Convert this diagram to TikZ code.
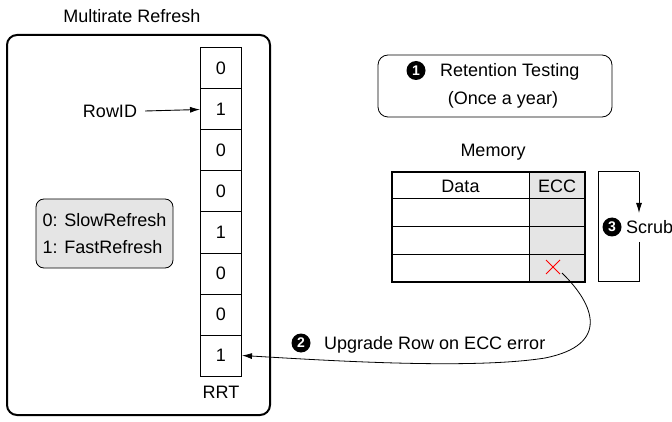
\documentclass[tikz,border=0pt]{standalone}
\usepackage{fontspec}
\setmainfont{Liberation Sans}
\usetikzlibrary{arrows.meta}
\begin{document}
\begin{tikzpicture}[x=1pt,y=-1pt,
  font=\fontsize{18}{21}\selectfont,
  cell/.style={draw, line width=1pt, minimum width=41pt, minimum height=41pt, inner sep=0pt},
  arr/.style={-{Latex[length=10pt,width=6pt]}, line width=0.9pt},
  lbl/.style={inner sep=0pt},
  cnum/.style={circle, fill=black, text=white, inner sep=0pt, minimum size=19pt,
               font=\fontsize{14}{14}\selectfont\bfseries},
  grayfill/.style={fill=black!10}
]
\useasboundingbox (0,0) rectangle (672,422);

% Multirate refresh block
\node[lbl] (title) at (132,16) {Multirate Refresh};
\draw[line width=2pt, rounded corners=10pt] (7,35) rectangle (270,415);

\foreach \v [count=\i from 0] in {0,1,0,0,1,0,0,1}
  \node[cell] (r\i) at (221,{68.5+41*\i}) {\v};
\node[lbl] (rrt) at (221,392) {RRT};

\node[lbl] (rowid) at (110,111) {RowID};
\draw[arr] (rowid.east) ++(8,0) -- (r1.west);

\node[draw, line width=0.8pt, rounded corners=8pt, grayfill, minimum width=137pt, minimum height=69pt,
      align=left, inner sep=0pt, font=\fontsize{18}{27}\selectfont] (legend) at (104.5,233.5)
  {0: SlowRefresh\\1: FastRefresh};

% Retention testing
\node[draw, line width=0.8pt, rounded corners=10pt, minimum width=234pt, minimum height=62pt] (ret) at (495,86) {};
\node[cnum] (c1) at (416,70.5) {1};
\node[lbl, anchor=base west] (rt1) at (440,77) {Retention Testing};
\node[lbl] (rt2) at (503,100) {(Once a year)};

% Memory
\node[lbl] (memlbl) at (493,152) {Memory};
\fill[black!10] (529,172) rectangle (585,282);
\draw[line width=1pt] (392,199) -- (585,199) (392,227) -- (585,227) (392,254) -- (585,254)
  (529,172) -- (529,282);
\draw[line width=2pt] (392,172) rectangle (585,282);
\node[lbl] (data) at (460.5,186) {Data};
\node[lbl] (ecc) at (557,186) {ECC};
\coordinate (err) at (553,267);
\draw[red, line width=0.9pt] (err) ++(-7,-7) -- ++(14,14) (err) ++(-7,7) -- ++(14,-14);

% Scrub
\draw[line width=1pt] (639,242) -- (639,281) -- (598,281) -- (598,172) -- (639,172);
\draw[arr] (639,172) -- (639,213);
\node[cnum] (c3) at (612,227) {3};
\node[lbl, anchor=base west] (scrub) at (626,233.5) {Scrub};

% Upgrade arrow
\coordinate (errout) at (562,273);
\draw[arr, line width=0.8pt] (errout) .. controls (595,305) and (610,345) .. (545,358)
   .. controls (470,370) and (320,360) .. (r7.east);
\node[cnum] (c2) at (301,343) {2};
\node[lbl, anchor=base west] (upg) at (324,349.5) {Upgrade Row on ECC error};
\end{tikzpicture}
\end{document}
